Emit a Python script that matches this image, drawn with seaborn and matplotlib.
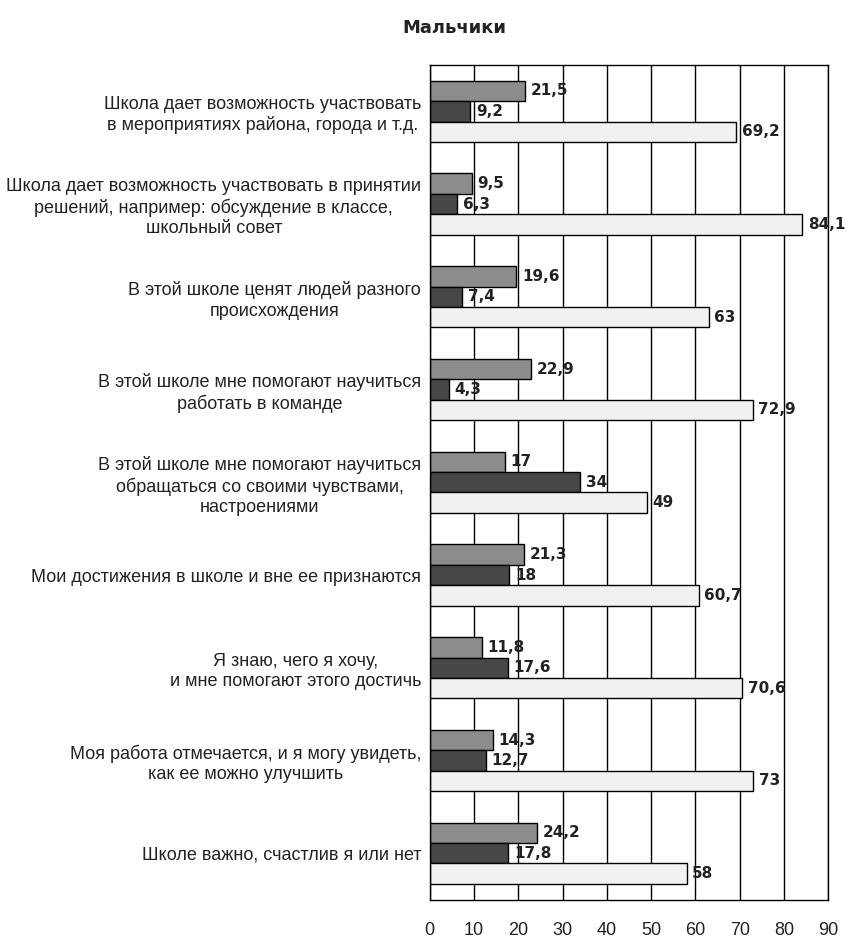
import matplotlib
matplotlib.use("Agg")
import matplotlib.pyplot as plt
import seaborn as sns
import pandas as pd
import numpy as np

categories = [
    "Школа дает возможность участвовать\nв мероприятиях района, города и т.д.",
    "Школа дает возможность участвовать в принятии\nрешений, например: обсуждение в классе,\nшкольный совет",
    "В этой школе ценят людей разного\nпроисхождения",
    "В этой школе мне помогают научиться\nработать в команде",
    "В этой школе мне помогают научиться\nобращаться со своими чувствами,\nнастроениями",
    "Мои достижения в школе и вне ее признаются",
    "Я знаю, чего я хочу,\nи мне помогают этого достичь",
    "Моя работа отмечается, и я могу увидеть,\nкак ее можно улучшить",
    "Школе важно, счастлив я или нет",
]
series_names = ["s1", "s2", "s3"]
s1 = [21.5, 9.5, 19.6, 22.9, 17, 21.3, 11.8, 14.3, 24.2]
s2 = [9.2, 6.3, 7.4, 4.3, 34, 18, 17.6, 12.7, 17.8]
s3 = [69.2, 84.1, 63, 72.9, 49, 60.7, 70.6, 73, 58]
x_ticks = [0, 10, 20, 30, 40, 50, 60, 70, 80, 90]
title = "Мальчики"

rows = []
for name, vals in zip(series_names, [s1, s2, s3]):
    for c, v in zip(categories, vals):
        rows.append({"cat": c, "series": name, "value": v})
df = pd.DataFrame(rows)

sns.set_style("white")
plt.rcParams["font.family"] = ["Liberation Sans", "DejaVu Sans"]

fig = plt.figure(figsize=(8.54, 9.41), dpi=100)
ax = fig.add_axes([0.503, 0.044, 0.467, 0.887])

palette = ["#8c8c8c", "#474747", "#f1f1f1"]
sns.barplot(data=df, y="cat", x="value", hue="series", hue_order=series_names,
            order=categories, palette=palette, orient="h", width=0.66, gap=0,
            edgecolor="black", linewidth=1.0, legend=False, ax=ax, saturation=1)

# value labels
for cont in ax.containers:
    labels = []
    for bar in cont:
        v = bar.get_width()
        s = f"{v:g}".replace(".", ",")
        labels.append(s)
    ax.bar_label(cont, labels=labels, padding=4, fontsize=11, fontweight="bold",
                 color="#222222", family="DejaVu Sans")

ax.set_xlim(0, 90)
ax.set_ylim(len(categories) - 0.5, -0.5)
ax.set_xticks(x_ticks)
ax.set_xticklabels([str(t) for t in x_ticks], fontsize=13, color="#222222")
ax.tick_params(axis="x", which="major", direction="inout", length=8, width=1,
               pad=12, color="black")
ax.xaxis.grid(True, color="black", linewidth=1)
ax.set_axisbelow(True)

ax.set_yticks(range(len(categories)))
ax.set_yticklabels(categories, fontsize=13, color="#222222",
                   multialignment="center", linespacing=1.25)
ax.tick_params(axis="y", which="major", length=0, pad=6)
ax.set_yticks(np.arange(len(categories) - 1) + 0.5, minor=True)
ax.tick_params(axis="y", which="minor", length=5, width=1, color="black")

ax.set_xlabel("")
ax.set_ylabel("")
for sp in ax.spines.values():
    sp.set_visible(True)
    sp.set_color("black")
    sp.set_linewidth(1)

fig.text(0.532, 0.970, title, ha="center", va="center", fontsize=13,
         fontweight="bold", color="#222222", family="DejaVu Sans")

fig.savefig("out.png", dpi=100)
